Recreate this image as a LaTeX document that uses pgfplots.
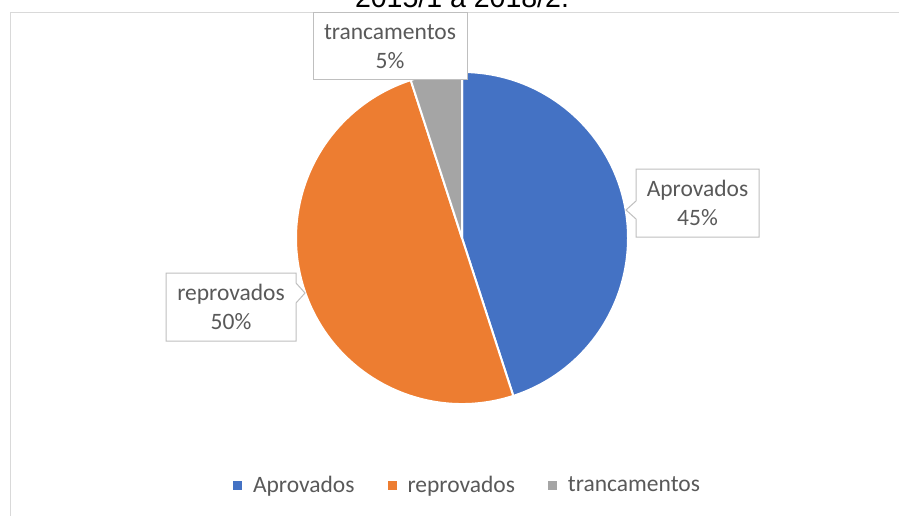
\documentclass[border=0pt]{standalone}
\usepackage{pgfplots}
\pgfplotsset{compat=1.18}
\usepackage{pgfplotstable}
\usepackage{fontspec}
\setmainfont{Carlito}
\newfontfamily\titlefont{Liberation Sans}
\definecolor{cA}{HTML}{4472C4}
\definecolor{cR}{HTML}{ED7D31}
\definecolor{cT}{HTML}{A5A5A5}
\definecolor{txt}{HTML}{595959}
\definecolor{brd}{HTML}{D9D9D9}
\definecolor{lbl}{HTML}{BFBFBF}
\newcommand\lf{\fontsize{23.5}{29}\selectfont}

\pgfplotstableread{
label value
Aprovados 45
reprovados 50
trancamentos 5
}\piedata
\pgfplotstablegetelem{0}{value}\of\piedata \pgfmathsetmacro\vA{\pgfplotsretval}
\pgfplotstablegetelem{1}{value}\of\piedata \pgfmathsetmacro\vR{\pgfplotsretval}
\pgfplotstablegetelem{2}{value}\of\piedata \pgfmathsetmacro\vT{\pgfplotsretval}
\pgfmathsetmacro\aO{90}
\pgfmathsetmacro\aA{\aO-3.6*\vA}
\pgfmathsetmacro\aR{\aA-3.6*\vR}
\pgfmathsetmacro\aT{\aR-3.6*\vT}

\begin{document}
\begin{tikzpicture}
\begin{axis}[
  width=899pt, height=516pt, scale only axis,
  xmin=0, xmax=899, ymin=0, ymax=516, y dir=reverse,
  hide axis,
  legend image code/.code={\fill[#1] (0pt,-4.5pt) rectangle (9pt,4.5pt);},
  legend style={at={(axis cs:467.5,485)}, anchor=center, draw=none, fill=none,
    legend columns=-1, font=\lf, text=txt,
    /tikz/every odd column/.append style={column sep=9pt},
    /tikz/every even column/.append style={column sep=31pt}},
  legend cell align=left,
]
\coordinate (TL) at (axis cs:0,0);
\coordinate (BR) at (axis cs:899,516);
% chart border
\draw[brd, line width=1.5pt] (axis cs:10.5,530) -- (axis cs:10.5,12.5) -- (axis cs:910,12.5);
% title (partly cut off at the top)
\node[font=\titlefont\fontsize{28.5}{34}\selectfont, anchor=base, text=black] at (axis cs:462,7.5) {2015/1 a 2018/2.};
% pie slices
\fill[cA, draw=white, line width=2pt, line join=round] (axis cs:462,238) -- ++(\aO:166pt) arc[start angle=\aO, end angle=\aA, radius=166pt] -- cycle;
\fill[cR, draw=white, line width=2pt, line join=round] (axis cs:462,238) -- ++(\aA:166pt) arc[start angle=\aA, end angle=\aR, radius=166pt] -- cycle;
\fill[cT, draw=white, line width=2pt, line join=round] (axis cs:462,238) -- ++(\aR:166pt) arc[start angle=\aR, end angle=\aT, radius=166pt] -- cycle;
% data label callouts
\filldraw[fill=white, draw=lbl, line width=1pt] (axis cs:636,169) -- (axis cs:759,169) -- (axis cs:759,237) -- (axis cs:636,237) -- (axis cs:636,219) -- (axis cs:626,210) -- (axis cs:636,201) -- cycle;
\node[font=\lf, text=txt, align=center] at (axis cs:697.5,203) {Aprovados\\45\%};
\filldraw[fill=white, draw=lbl, line width=1pt] (axis cs:166,273) -- (axis cs:296,273) -- (axis cs:296,283) -- (axis cs:305,293) -- (axis cs:296,303) -- (axis cs:296,341) -- (axis cs:166,341) -- cycle;
\node[font=\lf, text=txt, align=center] at (axis cs:231,307) {reprovados\\50\%};
\filldraw[fill=white, draw=lbl, line width=1pt] (axis cs:313,13) rectangle (axis cs:467,80);
\node[font=\lf, text=txt, align=center] at (axis cs:390,46.5) {trancamentos\\5\%};
% legend
\addlegendimage{fill=cA, draw=none}
\addlegendentry{Aprovados}
\addlegendimage{fill=cR, draw=none}
\addlegendentry{reprovados}
\addlegendimage{fill=cT, draw=none}
\addlegendentry{trancamentos}
\end{axis}
\pgfresetboundingbox
\useasboundingbox (TL) rectangle (BR);
\end{tikzpicture}
\end{document}
